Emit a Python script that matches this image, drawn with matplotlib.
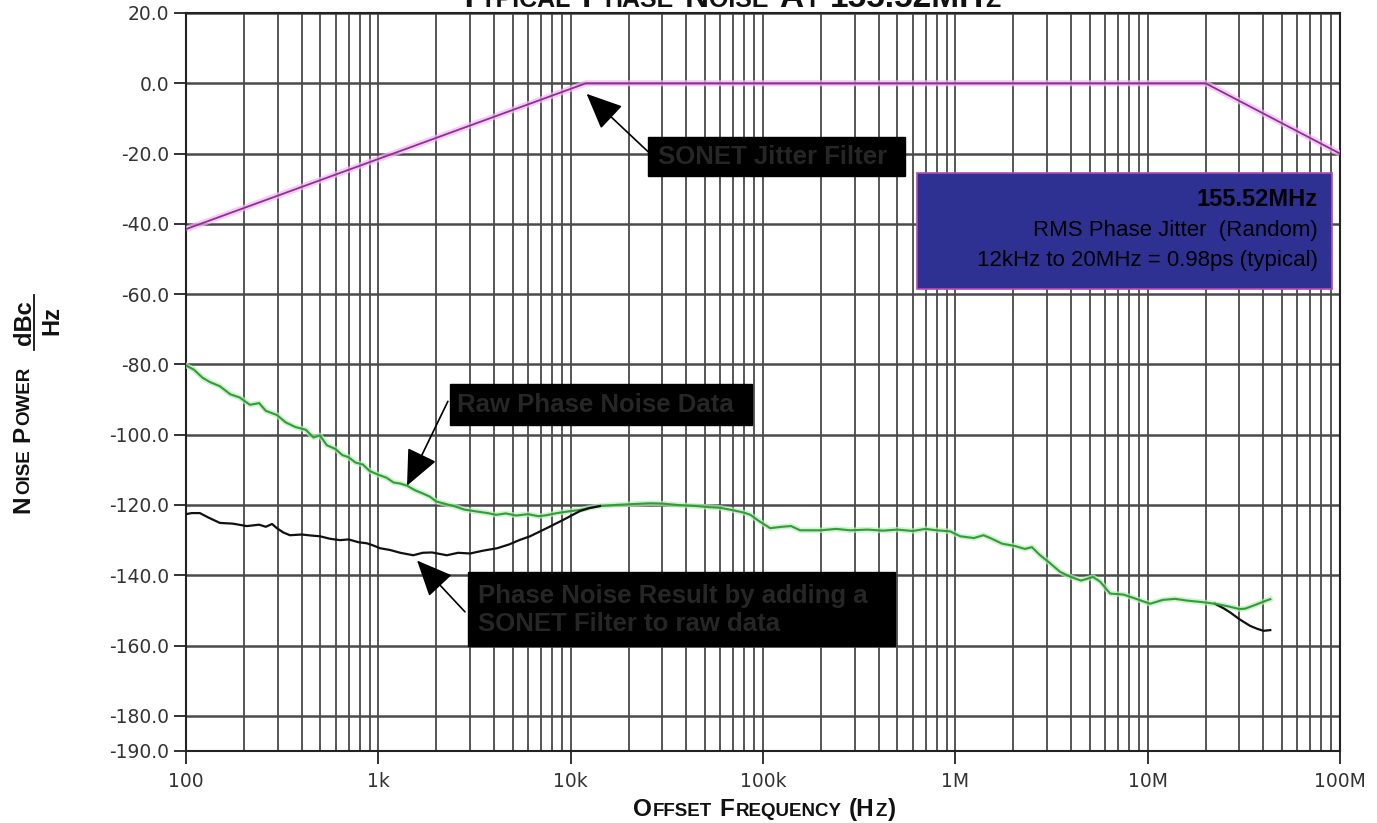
"""
Typical phase noise at 155.52MHz, raw data vs. SONET filtered.
"""
import numpy as np
import matplotlib
matplotlib.use('Agg')
import matplotlib.pyplot as plt
from matplotlib.patches import Rectangle
from matplotlib.ticker import LogLocator, NullFormatter
from matplotlib.transforms import IdentityTransform

W, H = 1377, 823

# raw phase noise (green)
raw_freq = [100, 110, 122, 133, 150, 170, 190, 215, 240, 260, 297, 330, 370, 420, 460, 497,
            540, 600, 650, 700, 760, 832, 900, 1000, 1100, 1200, 1300, 1410, 1550, 1700, 1850,
            2000, 2200, 2500, 2800, 3200, 3700, 4100, 4600, 5200, 6000, 6800, 7500, 8500, 9500,
            11200, 12500, 14200, 17000, 20000, 25900, 30000, 36000, 45000, 52000, 60000, 70000,
            80000, 86000, 95000, 109e3, 125e3, 140e3, 156e3, 200e3, 240e3, 284e3, 350e3, 420e3,
            500e3, 600e3, 700e3, 800e3, 940e3, 1.06e6, 1.25e6, 1.4e6, 1.52e6, 1.75e6, 2.05e6,
            2.3e6, 2.5e6, 2.76e6, 3.1e6, 3.5e6, 3.95e6, 4.5e6, 5.2e6, 5.66e6, 6.38e6, 7.5e6,
            8.5e6, 10.3e6, 12e6, 13.9e6, 16e6, 19e6, 22.4e6, 26e6, 30e6, 32.1e6, 36e6, 40e6, 43.4e6]
raw_db = [-80.3, -81.5, -83.8, -85.0, -86.2, -88.5, -89.4, -91.5, -91.0, -93.2, -94.4, -96.5,
          -97.8, -98.6, -100.8, -100.2, -103.0, -104.1, -105.8, -106.4, -107.9, -108.5, -110.3,
          -111.4, -112.2, -113.6, -113.9, -114.5, -115.8, -116.7, -117.6, -119.0, -119.6, -120.4,
          -121.3, -121.8, -122.3, -122.8, -122.4, -123.0, -122.6, -123.2, -122.9, -122.3, -121.9,
          -121.4, -120.8, -120.3, -120.0, -119.8, -119.5, -119.6, -120.0, -120.3, -120.6, -120.8,
          -121.5, -122.2, -122.8, -124.5, -126.6, -126.2, -126.0, -127.2, -127.2, -126.8, -127.2,
          -127.0, -127.3, -127.0, -127.4, -126.8, -127.2, -127.5, -128.9, -129.4, -128.6, -129.4,
          -131.0, -131.7, -132.5, -132.0, -134.3, -136.5, -139.0, -140.4, -141.5, -140.5, -141.8,
          -145.2, -145.5, -146.5, -148.1, -147.0, -146.7, -147.2, -147.6, -148.1, -148.8, -149.6,
          -149.5, -148.5, -147.5, -146.8]

# filtered result (black), low and high ends (middle is hidden under the green)
filt_lo_freq = [100, 107, 118, 130, 150, 175, 207, 240, 260, 280, 297, 320, 347, 400, 450, 497,
                560, 632, 700, 790, 872, 950, 1020, 1150, 1300, 1520, 1700, 1900, 2270, 2600, 3000,
                3500, 4150, 4800, 5400, 6150, 7500, 9100, 11200, 12500, 14200]
filt_lo_db = [-122.6, -122.3, -122.3, -123.5, -125.1, -125.3, -126.0, -125.6, -126.2, -125.4,
              -126.6, -127.8, -128.6, -128.4, -128.7, -128.9, -129.6, -130.0, -129.8, -130.6,
              -130.9, -131.6, -132.3, -132.8, -133.6, -134.3, -133.6, -133.5, -134.3, -133.6,
              -133.8, -133.0, -132.3, -131.2, -130.0, -128.9, -126.6, -124.3, -121.7, -120.9, -120.3]
filt_hi_freq = [22.4e6, 25e6, 26.9e6, 30e6, 34.1e6, 37e6, 40e6, 43.4e6]
filt_hi_db = [-148.1, -149.5, -150.6, -152.5, -154.4, -155.2, -155.8, -155.6]

# SONET jitter filter mask
mask_freq = [100, 12e3, 20e6, 100e6]
mask_db = [-41.5, 0.0, 0.0, -20.0]

yticks = [20, 0, -20, -40, -60, -80, -100, -120, -140, -160, -180, -190]
xticks = [1e2, 1e3, 1e4, 1e5, 1e6, 1e7, 1e8]
xlabels = ['100', '1k', '10k', '100k', '1M', '10M', '100M']

fig = plt.figure(figsize=(W / 100, H / 100), dpi=100)
ax = fig.add_axes([186 / W, 1 - 751 / H, 1154 / W, (751 - 13) / H])

ax.plot(mask_freq, mask_db, color='#f2b8f0', lw=4.5, alpha=0.7, solid_capstyle='butt', zorder=3)
ax.plot(mask_freq, mask_db, color='#8e2f98', lw=1.3, zorder=4)
ax.plot(raw_freq, raw_db, color='#bfeabf', lw=4, alpha=0.7, zorder=3)
ax.plot(raw_freq, raw_db, color='#2f9e35', lw=1.5, zorder=4)
ax.plot(filt_lo_freq, filt_lo_db, color='#111111', lw=1.6, zorder=5)
ax.plot(filt_hi_freq, filt_hi_db, color='#111111', lw=1.6, zorder=3.5)

ax.set_xscale('log')
ax.set_xlim(1e2, 1e8)
ax.set_ylim(-190, 20)
ax.set_xticks(xticks, xlabels)
ax.xaxis.set_minor_locator(LogLocator(base=10, subs=np.arange(2, 10), numticks=100))
ax.xaxis.set_minor_formatter(NullFormatter())
ax.set_yticks(yticks, [f'{v:.1f}' for v in yticks])
ax.grid(axis='x', which='both', color='#3a3a3a', lw=1.2, zorder=1)
ax.grid(axis='y', which='major', color='#4a4a4a', lw=1.8, zorder=1)
ax.tick_params(which='major', length=9, width=1.3, color='#222', labelsize=13.5,
               labelcolor='#333', pad=3)
ax.tick_params(axis='x', which='major', pad=6)
ax.tick_params(which='minor', length=0)
for sp in ax.spines.values():
    sp.set_color('#222')
    sp.set_linewidth(1.5)

BOLD = dict(family='Liberation Sans', fontweight='bold')
arrow = dict(arrowstyle='-|>,head_length=0.9,head_width=0.4', color='black', lw=1.2,
             mutation_scale=25, shrinkA=0, shrinkB=0)

# SONET jitter filter label
ax.add_patch(Rectangle((25.3e3, -26.4), 548e3 - 25.3e3, 11.2, color='black', zorder=6))
ax.text(112e3, -21.0, 'SONET Jitter Filter', color='#262626', fontsize=18.5, ha='center',
        va='center', zorder=7, **BOLD)
ax.annotate('', xy=(12.1e3, -3.0), xytext=(25.3e3, -19.5), arrowprops=arrow, zorder=7)

# raw phase noise label
ax.add_patch(Rectangle((2.36e3, -97.3), 87.8e3 - 2.36e3, 11.8, color='black', zorder=6))
ax.text(2.55e3, -91.6, 'Raw Phase Noise Data', color='#262626', fontsize=18.5, ha='left',
        va='center', zorder=7, **BOLD)
ax.annotate('', xy=(1.41e3, -114.5), xytext=(2.3e3, -90.5), arrowprops=arrow, zorder=7)

# filtered result label
ax.add_patch(Rectangle((2.93e3, -160.2), 486e3 - 2.93e3, 21.0, color='black', zorder=6))
ax.text(3.3e3, -145.8, 'Phase Noise Result by adding a', color='#262626', fontsize=18.5,
        ha='left', va='center', zorder=7, **BOLD)
ax.text(3.3e3, -154.0, 'SONET Filter to raw data', color='#262626', fontsize=18.5,
        ha='left', va='center', zorder=7, **BOLD)
ax.annotate('', xy=(1.59e3, -135.8), xytext=(2.82e3, -150.4), arrowprops=arrow, zorder=7)

# jitter summary box
ax.add_patch(Rectangle((633e3, -58.6), 91e6 - 633e3, 33.0, facecolor='#2e3192',
                       edgecolor='#b04cb8', lw=1.2, zorder=6))
ax.text(76.4e6, -33.1, '155.52MHz', color='black', fontsize=17, ha='right', va='center',
        zorder=7, **BOLD)
ax.text(76.4e6, -41.9, 'RMS Phase Jitter  (Random)', color='black', fontsize=16,
        family='Liberation Sans', ha='right', va='center', zorder=7)
ax.text(76.4e6, -50.3, '12kHz to 20MHz = 0.98ps (typical)', color='black', fontsize=16,
        family='Liberation Sans', ha='right', va='center', zorder=7)


def smallcaps(x, y, pieces, big, small, rot=0, centered=True):
    # lay out bold small-caps pieces in figure pixels
    r = fig.canvas.get_renderer()
    placed, pos = [], 0.0
    for s, is_big in pieces:
        size = big if is_big else small
        if s == ' ':
            pos += size * 0.28 * 100 / 72
            continue
        t = fig.text(0, 0, s, transform=IdentityTransform(), fontsize=size, color='#111',
                     rotation=rot, rotation_mode='anchor', ha='left', va='baseline', **BOLD)
        ext = t.get_window_extent(r)
        placed.append((t, pos))
        pos += (ext.width if rot == 0 else ext.height) + 1
    start = -pos / 2 if centered else 0
    for t, p in placed:
        t.set_position((x + start + p, y) if rot == 0 else (x, y + start + p))


smallcaps(730, H - 7, [('T', 1), ('YPICAL', 0), (' ', 1), ('P', 1), ('HASE', 0), (' ', 1),
                       ('N', 1), ('OISE', 0), (' ', 1), ('A', 1), ('T', 0), (' ', 1),
                       ('155.52MH', 1), ('Z', 0)], 24, 18)
smallcaps(765, H - 816, [('O', 1), ('FFSET', 0), (' ', 1), ('F', 1), ('REQUENCY', 0), (' ', 1),
                         ('(H', 1), ('Z', 0), (')', 1)], 17.5, 13.5)
smallcaps(29, H - 513, [('N', 1), ('OISE', 0), (' ', 1), ('P', 1), ('OWER', 0)], 17.5, 13.5,
          rot=90, centered=False)
smallcaps(31, H - 322, [('dBc', 1)], 17, 13, rot=90)
smallcaps(58, H - 320, [('Hz', 1)], 17, 13, rot=90)
fig.add_artist(plt.Line2D([34 / W, 34 / W], [1 - 350 / H, 1 - 295 / H], color='#111', lw=1.3))

fig.savefig('out.png', dpi=100)
